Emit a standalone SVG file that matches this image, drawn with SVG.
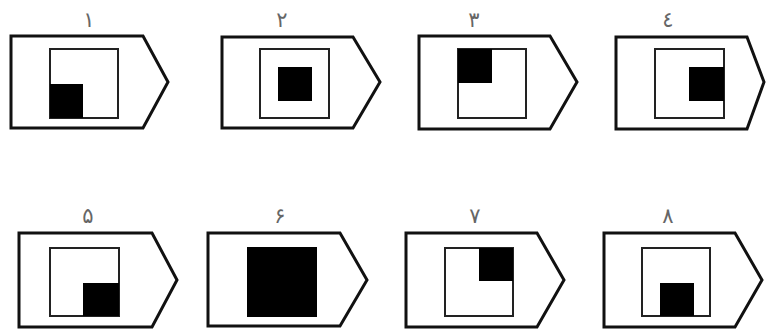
<svg xmlns="http://www.w3.org/2000/svg" width="767" height="330" viewBox="0 0 767 330">
<style>
.outer{fill:#fff;stroke:#111;stroke-width:3;stroke-linejoin:miter}
.inner{fill:#fff;stroke:#222;stroke-width:2}
.blk{fill:#000}
.lbl{font-family:"DejaVu Sans",sans-serif;font-size:21px;fill:#666;text-anchor:middle}
</style>
<rect width="767" height="330" fill="#fff"/>
<g id="node1">
<path class="outer" d="M11,36 H143 L168,82 L143,128 H11 Z"/>
<rect class="inner" x="50" y="49" width="68" height="69"/>
<rect class="blk" x="50" y="84" width="33" height="34"/>
<text class="lbl" x="89" y="27">١</text>
</g>
<g id="node2">
<path class="outer" d="M222,37 H353 L380,82 L353,128 H222 Z"/>
<rect class="inner" x="260" y="49" width="69" height="69"/>
<rect class="blk" x="278" y="67" width="34" height="34"/>
<text class="lbl" x="282" y="27">٢</text>
</g>
<g id="node3">
<path class="outer" d="M419,36 H550 L577,82 L550,129 H419 Z"/>
<rect class="inner" x="458" y="49" width="68" height="69"/>
<rect class="blk" x="458" y="49" width="34" height="34"/>
<text class="lbl" x="474" y="27">٣</text>
</g>
<g id="node4">
<path class="outer" d="M616,37 H747 L764,82 L747,129 H616 Z"/>
<rect class="inner" x="655" y="49" width="69" height="69"/>
<rect class="blk" x="689" y="67" width="35" height="34"/>
<text class="lbl" x="668" y="27">٤</text>
</g>
<g id="node5">
<path class="outer" d="M19,233 H152 L177,280 L152,327 H19 Z"/>
<rect class="inner" x="50" y="248" width="69" height="68"/>
<rect class="blk" x="83" y="283" width="36" height="33"/>
<text class="lbl" x="88" y="223">۵</text>
</g>
<g id="node6">
<path class="outer" d="M208,233 H340 L367,280 L340,326 H208 Z"/>
<rect class="blk" x="247" y="247" width="70" height="70"/>
<text class="lbl" x="280" y="223">۶</text>
</g>
<g id="node7">
<path class="outer" d="M406,233 H537 L564,280 L537,327 H406 Z"/>
<rect class="inner" x="445" y="248" width="68" height="68"/>
<rect class="blk" x="479" y="248" width="34" height="33"/>
<text class="lbl" x="475" y="223">٧</text>
</g>
<g id="node8">
<path class="outer" d="M604,233 H735 L762,280 L735,327 H604 Z"/>
<rect class="inner" x="642" y="248" width="68" height="68"/>
<rect class="blk" x="660" y="283" width="34" height="33"/>
<text class="lbl" x="668" y="223">٨</text>
</g>
<g id="connectors"></g>
</svg>
